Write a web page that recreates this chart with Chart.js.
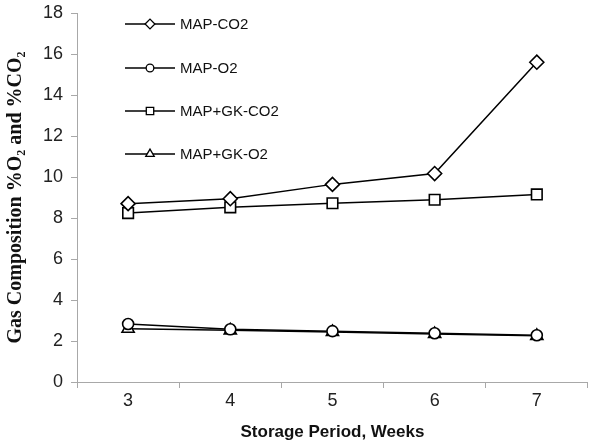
<!DOCTYPE html>
<html>
<head>
<meta charset="utf-8">
<style>
  html, body { margin: 0; padding: 0; background: #fff; }
  #wrap { width: 597px; height: 444px; }
</style>
<script src="https://cdn.jsdelivr.net/npm/chart.js@4/dist/chart.umd.min.js"></script>
</head>
<body>
<div id="wrap"><canvas id="gas"></canvas></div>
<script>
// weeks of storage
var weeks = ['3', '4', '5', '6', '7'];
// gas composition, %
var mapCO2 = [8.70, 8.94, 9.64, 10.17, 15.6];
var mapO2 = [2.83, 2.57, 2.48, 2.38, 2.28];
var gkCO2 = [8.24, 8.52, 8.72, 8.89, 9.15];
var gkO2 = [2.60, 2.52, 2.44, 2.34, 2.25];
var yTicks = [0, 2, 4, 6, 8, 10, 12, 14, 16, 18];

var sans = '"Liberation Sans", Arial, sans-serif';

function serie(label, data, style, r) {
  return {
    label: label,
    data: data,
    borderColor: '#000',
    borderWidth: 1.5,
    pointStyle: style,
    pointRadius: r,
    pointBorderWidth: 1.6,
    pointBackgroundColor: '#fff',
    pointBorderColor: '#000',
    tension: 0
  };
}

// legend drawn as line + marker, like the original
var sideLegend = {
  id: 'sideLegend',
  afterDraw: function(chart) {
    var c = chart.ctx;
    var rows = [24, 68, 111, 154];
    chart.data.datasets.forEach(function(ds, i) {
      var y = rows[i];
      c.save();
      c.strokeStyle = '#000';
      c.lineWidth = 1.5;
      c.beginPath();
      c.moveTo(125, y);
      c.lineTo(175, y);
      c.stroke();
      c.fillStyle = '#fff';
      c.lineWidth = 1.3;
      Chart.helpers.drawPoint(c, {pointStyle: ds.pointStyle, radius: ds.pointRadius * 0.7, borderWidth: 1.3}, 150, y);
      c.fillStyle = '#111';
      c.font = '15px ' + sans;
      c.textBaseline = 'middle';
      c.fillText(ds.label, 180, y + 1);
      c.restore();
    });
  }
};

var ctx = document.getElementById('gas');
var myChart = new Chart(ctx, {
  type: 'line',
  data: {
    labels: weeks,
    datasets: [
      serie('MAP-CO2', mapCO2, 'rectRot', 7),
      serie('MAP-O2', mapO2, 'circle', 5.5),
      serie('MAP+GK-CO2', gkCO2, 'rect', 7.5),
      serie('MAP+GK-O2', gkO2, 'triangle', 7)
    ]
  },
  plugins: [sideLegend],
  options: {
    responsive: true,
    maintainAspectRatio: false,
    animation: false,
    layout: { padding: { top: 0, right: 1, left: 4, bottom: 0 } },
    plugins: {
      legend: { display: false },
      tooltip: { enabled: false }
    },
    scales: {
      x: {
        offset: true,
        border: { color: '#a8a8a8', width: 1 },
        grid: { display: true, offset: true, drawOnChartArea: false, tickLength: 6, color: '#a8a8a8', lineWidth: 1 },
        ticks: { color: '#222', font: { family: sans, size: 18 }, padding: 2 },
        title: {
          display: true,
          text: 'Storage Period, Weeks',
          color: '#111',
          font: { family: sans, size: 17, weight: 'bold' },
          padding: { top: 9, bottom: 1 }
        }
      },
      y: {
        min: 0,
        max: 18,
        afterBuildTicks: function(axis) {
          axis.ticks = yTicks.map(function(v) { return { value: v }; });
        },
        afterFit: function(axis) {
          axis.paddingTop = 13;
        },
        border: { color: '#a8a8a8', width: 1 },
        grid: { drawOnChartArea: false, tickLength: 6, color: '#a8a8a8', lineWidth: 1 },
        ticks: { color: '#222', font: { family: sans, size: 18 }, padding: 8 },
        title: {
          display: true,
          text: 'Gas Composition %O\u2082 and %CO\u2082',
          color: '#111',
          font: { family: '"Liberation Serif", "Times New Roman", serif', size: 20, weight: 'bold' },
          padding: { top: 0, bottom: 7 }
        }
      }
    }
  }
});
</script>
</body>
</html>
